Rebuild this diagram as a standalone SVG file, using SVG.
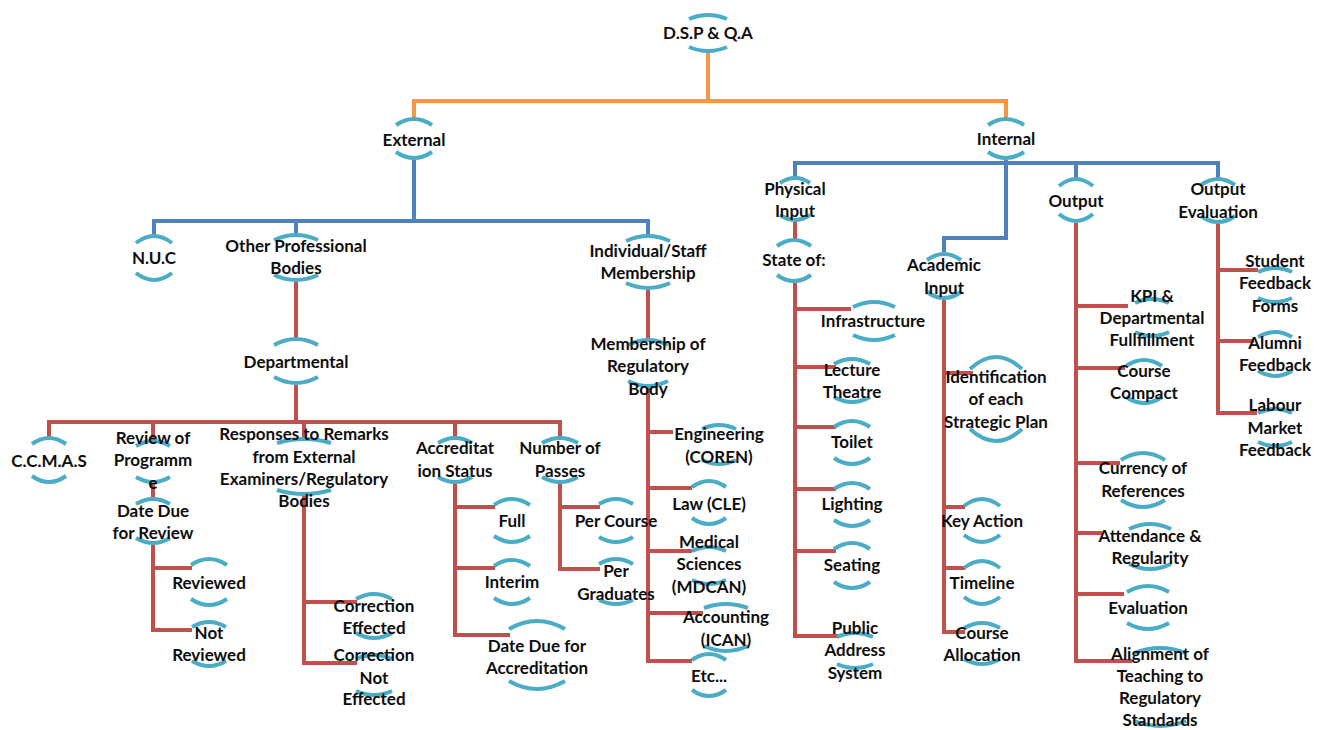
<svg xmlns="http://www.w3.org/2000/svg" width="1327" height="730" viewBox="0 0 1327 730">
<style>
.arc{fill:none;stroke:#4BACC6;stroke-width:4}
.c{fill:none;stroke-width:4;stroke-linejoin:miter}
.o{stroke:#F79646}.b{stroke:#4F81BD}.r{stroke:#C0504D}
text{font-family:Lato,"Liberation Sans",sans-serif;font-weight:700;font-size:17px;fill:#0d0d0d;text-anchor:middle}
</style>
<rect width="1327" height="730" fill="#fff"/>
<g id="connectors">
<path class="c o" d="M708,53V101M414,119V101H1006V119"/>
<path class="c b" d="M414,160V221M154,236V221H648V236M296,221V235"/>
<path class="c b" d="M1006,160V163M795,178V163H1218V179M1076,163V179M1006,163V238H944V254"/>
<path class="c r" d="M296,282V339M296,385V422M49,438V422H560V438M153,422V441M304,422V439M455,422V438"/>
<path class="c r" d="M153,484V499M153,545V630H192M153,568H192"/>
<path class="c r" d="M304,496V663H357M304,602H357"/>
<path class="c r" d="M455,484V635H510M455,507H495M455,568H495"/>
<path class="c r" d="M560,484V569H600M560,507H600"/>
<path class="c r" d="M648,290V340M648,388V661H692M648,432H673M648,488H692M648,551H692M648,613H703"/>
<path class="c r" d="M795,222V240M795,283V636H838M795,309H851M795,367H836M795,427H836M795,489H836M795,551H836"/>
<path class="c r" d="M944,300V632H965M944,373H973M944,507H965M944,568H965"/>
<path class="c r" d="M1076,223V661H1132M1076,306H1128M1076,368H1125M1076,463H1120M1076,533H1102M1076,594H1124"/>
<path class="c r" d="M1218,224V413H1257M1218,270H1258M1218,341H1254"/>
</g>
<g id="dsp"><path class="arc" d="M689,19Q708,11 727,19M689,47Q708,55 727,47"/><text x="708" y="39">D.S.P &amp; Q.A</text></g>
<g id="external"><path class="arc" d="M396,125Q414,113 432,125M396,152Q414,164 432,152"/><text x="414" y="146">External</text></g>
<g id="internal"><path class="arc" d="M988,125Q1006,113 1024,125M988,152Q1006,164 1024,152"/><text x="1006" y="145">Internal</text></g>
<g id="nuc"><path class="arc" d="M136,243Q154,229 172,243M136,273Q154,287 172,273"/><text x="154" y="264">N.U.C</text></g>
<g id="otherprof"><path class="arc" d="M274,240Q296,230 318,240M274,275Q296,285 318,275"/><text x="296" y="252">Other Professional</text><text x="296" y="274">Bodies</text></g>
<g id="indiv"><path class="arc" d="M626,241Q648,231 670,241M626,283Q648,293 670,283"/><text x="648" y="257">Individual/Staff</text><text x="648" y="279">Membership</text></g>
<g id="physical"><path class="arc" d="M780,183Q795,173 810,183M780,215Q795,225 810,215"/><text x="795" y="195">Physical</text><text x="795" y="217">Input</text></g>
<g id="academic"><path class="arc" d="M927,260Q944,248 961,260M927,292Q944,304 961,292"/><text x="944" y="271">Academic</text><text x="944" y="294">Input</text></g>
<g id="output"><path class="arc" d="M1059,186Q1076,172 1093,186M1059,214Q1076,228 1093,214"/><text x="1076" y="207">Output</text></g>
<g id="outeval"><path class="arc" d="M1201,185Q1218,173 1235,185M1201,216Q1218,228 1235,216"/><text x="1218" y="195">Output</text><text x="1218" y="218">Evaluation</text></g>
<g id="departmental"><path class="arc" d="M274,345Q296,333 318,345M274,377Q296,389 318,377"/><text x="296" y="368">Departmental</text></g>
<g id="membership"><path class="arc" d="M628,345Q648,335 668,345M628,381Q648,391 668,381"/><text x="648" y="350">Membership of</text><text x="648" y="372">Regulatory</text><text x="648" y="395">Body</text></g>
<g id="stateof"><path class="arc" d="M777,246Q794,234 811,246M777,275Q794,287 811,275"/><text x="794" y="266">State of:</text></g>
<g id="infrastructure"><path class="arc" d="M853,307Q874,297 895,307M853,335Q874,345 895,335"/><text x="873" y="327">Infrastructure</text></g>
<g id="lecture"><path class="arc" d="M834,364Q852,354 870,364M834,397Q852,407 870,397"/><text x="852" y="376">Lecture</text><text x="852" y="398">Theatre</text></g>
<g id="toilet"><path class="arc" d="M834,427Q852,415 870,427M834,458Q852,470 870,458"/><text x="852" y="448">Toilet</text></g>
<g id="lighting"><path class="arc" d="M834,489Q852,477 870,489M834,520Q852,532 870,520"/><text x="852" y="510">Lighting</text></g>
<g id="seating"><path class="arc" d="M834,549Q852,537 870,549M834,582Q852,594 870,582"/><text x="852" y="571">Seating</text></g>
<g id="public"><path class="arc" d="M837,637Q855,629 873,637M837,664Q855,672 873,664"/><text x="855" y="634">Public</text><text x="855" y="656">Address</text><text x="855" y="679">System</text></g>
<g id="identification"><path class="arc" d="M970,369Q996,345 1022,369M970,429Q996,453 1022,429"/><text x="996" y="383">Identification</text><text x="996" y="405">of each</text><text x="996" y="428">Strategic Plan</text></g>
<g id="keyaction"><path class="arc" d="M964,506Q982,492 1000,506M964,535Q982,549 1000,535"/><text x="982" y="527">Key Action</text></g>
<g id="timeline"><path class="arc" d="M964,568Q982,554 1000,568M964,597Q982,611 1000,597"/><text x="982" y="589">Timeline</text></g>
<g id="courseallocation"><path class="arc" d="M964,628Q982,618 1000,628M964,659Q982,669 1000,659"/><text x="982" y="639">Course</text><text x="982" y="661">Allocation</text></g>
<g id="kpi"><path class="arc" d="M1135,303Q1152,295 1169,303M1135,332Q1152,340 1169,332"/><text x="1152" y="302">KPI &amp;</text><text x="1152" y="324">Departmental</text><text x="1152" y="346">Fullfillment</text></g>
<g id="coursecompact"><path class="arc" d="M1126,366Q1144,354 1162,366M1126,397Q1144,409 1162,397"/><text x="1144" y="377">Course</text><text x="1144" y="399">Compact</text></g>
<g id="currency"><path class="arc" d="M1121,460Q1143,446 1165,460M1121,500Q1143,514 1165,500"/><text x="1143" y="474">Currency of</text><text x="1143" y="497">References</text></g>
<g id="attendance"><path class="arc" d="M1129,529Q1150,519 1171,529M1129,564Q1150,574 1171,564"/><text x="1150" y="542">Attendance &amp;</text><text x="1150" y="564">Regularity</text></g>
<g id="evaluation"><path class="arc" d="M1127,592Q1148,580 1169,592M1127,623Q1148,635 1169,623"/><text x="1148" y="614">Evaluation</text></g>
<g id="alignment"><path class="arc" d="M1134,653Q1160,643 1186,653M1134,721Q1160,731 1186,721"/><text x="1160" y="660">Alignment of</text><text x="1160" y="682">Teaching to</text><text x="1160" y="704">Regulatory</text><text x="1160" y="726">Standards</text></g>
<g id="student"><path class="arc" d="M1258,272Q1275,264 1292,272M1258,298Q1275,306 1292,298"/><text x="1275" y="267">Student</text><text x="1275" y="289">Feedback</text><text x="1275" y="312">Forms</text></g>
<g id="alumni"><path class="arc" d="M1258,337Q1275,327 1292,337M1258,371Q1275,381 1292,371"/><text x="1275" y="349">Alumni</text><text x="1275" y="371">Feedback</text></g>
<g id="labour"><path class="arc" d="M1258,413Q1275,405 1292,413M1258,442Q1275,450 1292,442"/><text x="1275" y="411">Labour</text><text x="1275" y="434">Market</text><text x="1275" y="456">Feedback</text></g>
<g id="ccmas"><path class="arc" d="M32,444Q49,432 66,444M32,476Q49,488 66,476"/><text x="49" y="467">C.C.M.A.S</text></g>
<g id="review"><path class="arc" d="M136,446Q153,436 170,446M136,477Q153,487 170,477"/><text x="153" y="444">Review of</text><text x="153" y="466">Programm</text><text x="153" y="489">e</text></g>
<g id="datedue"><path class="arc" d="M136,504Q153,494 170,504M136,538Q153,548 170,538"/><text x="153" y="517">Date Due</text><text x="153" y="539">for Review</text></g>
<g id="reviewed"><path class="arc" d="M191,565Q209,553 227,565M191,599Q209,611 227,599"/><text x="209" y="589">Reviewed</text></g>
<g id="notreviewed"><path class="arc" d="M192,627Q209,617 226,627M192,661Q209,671 226,661"/><text x="209" y="639">Not</text><text x="209" y="661">Reviewed</text></g>
<g id="responses"><path class="arc" d="M277,443Q304,435 331,443M277,490Q304,498 331,490"/><text x="304" y="440">Responses to Remarks</text><text x="304" y="463">from External</text><text x="304" y="485">Examiners/Regulatory</text><text x="304" y="507">Bodies</text></g>
<g id="correctioneffected"><path class="arc" d="M356,599Q374,589 392,599M356,633Q374,643 392,633"/><text x="374" y="612">Correction</text><text x="374" y="634">Effected</text></g>
<g id="correctionnot"><path class="arc" d="M356,659Q374,651 392,659M356,691Q374,699 392,691"/><text x="374" y="661">Correction</text><text x="374" y="684">Not</text><text x="374" y="705">Effected</text></g>
<g id="accreditation"><path class="arc" d="M438,443Q455,433 472,443M438,477Q455,487 472,477"/><text x="455" y="454">Accreditat</text><text x="455" y="477">ion Status</text></g>
<g id="numpasses"><path class="arc" d="M542,443Q560,433 578,443M542,477Q560,487 578,477"/><text x="560" y="454">Number of</text><text x="560" y="477">Passes</text></g>
<g id="full"><path class="arc" d="M494,505Q512,493 530,505M494,536Q512,548 530,536"/><text x="512" y="527">Full</text></g>
<g id="interim"><path class="arc" d="M494,566Q512,554 530,566M494,598Q512,610 530,598"/><text x="512" y="588">Interim</text></g>
<g id="datedueaccreditation"><path class="arc" d="M509,629Q537,613 565,629M509,681Q537,697 565,681"/><text x="537" y="652">Date Due for</text><text x="537" y="674">Accreditation</text></g>
<g id="percourse"><path class="arc" d="M599,504Q616,494 633,504M599,537Q616,547 633,537"/><text x="616" y="527">Per Course</text></g>
<g id="pergraduates"><path class="arc" d="M599,564Q616,554 633,564M599,600Q616,608 633,600"/><text x="616" y="577">Per</text><text x="616" y="600">Graduates</text></g>
<g id="engineering"><path class="arc" d="M702,429Q719,421 736,429M702,460Q719,468 736,460"/><text x="719" y="440">Engineering</text><text x="719" y="463">(COREN)</text></g>
<g id="law"><path class="arc" d="M692,487Q709,475 726,487M692,518Q709,530 726,518"/><text x="709" y="510">Law (CLE)</text></g>
<g id="medical"><path class="arc" d="M692,551Q709,543 726,551M692,580Q709,588 726,580"/><text x="709" y="548">Medical</text><text x="709" y="570">Sciences</text><text x="709" y="593">(MDCAN)</text></g>
<g id="accounting"><path class="arc" d="M704,608Q726,600 748,608M704,646Q726,656 748,646"/><text x="726" y="623">Accounting</text><text x="726" y="646">(ICAN)</text></g>
<g id="etc"><path class="arc" d="M692,660Q709,648 726,660M692,690Q709,702 726,690"/><text x="709" y="682">Etc...</text></g>
</svg>
